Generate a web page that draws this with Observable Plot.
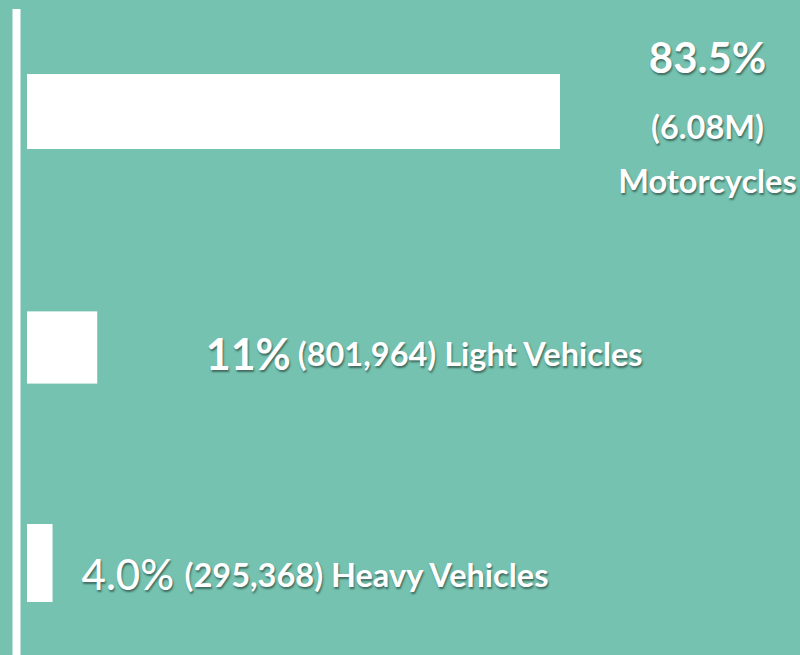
<!DOCTYPE html>
<html>
<head>
<meta charset="utf-8">
<script src="https://cdn.jsdelivr.net/npm/d3@7"></script>
<script src="https://cdn.jsdelivr.net/npm/@observablehq/plot@0.6"></script>
<style>
  html, body { margin: 0; padding: 0; background: #74c2af; }
  #chart svg text { text-shadow: 1px 2px 2px rgba(0,0,0,0.45); }
</style>
</head>
<body>
<div id="chart"></div>
<script>
const categories = ["Motorcycles", "Light Vehicles", "Heavy Vehicles"];
const percents = [83.5, 11, 4.0];
const percentLabels = ["83.5%", "11%", "4.0%"];
const countLabels = ["(6.08M)", "(801,964)", "(295,368)"];

const data = categories.map((c, i) => ({
  cat: c, pct: percents[i], pctLabel: percentLabels[i], countLabel: countLabels[i]
}));

const font = "Lato";
const big = 42, small = 32.5;
const row = (i) => [data[i]];
const white = "white";

const chart = Plot.plot({
  width: 800,
  height: 655,
  marginLeft: 27,
  marginRight: 240,
  marginTop: 9,
  marginBottom: 0,
  style: { background: "#74c2af", fontFamily: font, overflow: "visible" },
  x: { domain: [0, d3.max(percents)], axis: null },
  y: { domain: categories, range: [73, 601], paddingInner: 0.67, paddingOuter: 0, axis: null },
  marks: [
    Plot.ruleX([0], { stroke: white, strokeWidth: 8, dx: -11 }),
    Plot.barX(row(0), { x: "pct", y: "cat", fill: white }),
    Plot.barX(row(1), { x: "pct", y: "cat", fill: white, dy: 10, insetTop: 1.4, insetBottom: 1.4 }),
    Plot.barX(row(2), { x: "pct", y: "cat", fill: white, insetTop: -2, insetBottom: -1 }),
    // Motorcycles: stacked, centred lines
    Plot.text(row(0), { x: "pct", y: "cat", text: "pctLabel", textAnchor: "middle", dx: 147, dy: -52, fill: white, fontSize: big, fontWeight: 700 }),
    Plot.text(row(0), { x: "pct", y: "cat", text: "countLabel", textAnchor: "middle", dx: 147, dy: 17, fill: white, fontSize: small, fontWeight: 700 }),
    Plot.text(row(0), { x: "pct", y: "cat", text: "cat", textAnchor: "middle", dx: 147, dy: 71, fill: white, fontSize: small, fontWeight: 700 }),
    // Light Vehicles: inline
    Plot.text(row(1), { x: "pct", y: "cat", text: "pctLabel", textAnchor: "start", dx: 108, dy: 18, fill: white, fontSize: big + 1, fontWeight: 700 }),
    Plot.text(row(1), { x: "pct", y: "cat", text: (d) => d.countLabel + " " + d.cat, textAnchor: "start", dx: 200, dy: 18, fill: white, fontSize: small, fontWeight: 700 }),
    // Heavy Vehicles: inline
    Plot.text(row(2), { x: "pct", y: "cat", text: "pctLabel", textAnchor: "start", dx: 28.5, dy: 13, fill: white, fontSize: big, fontWeight: 500 }),
    Plot.text(row(2), { x: "pct", y: "cat", text: (d) => d.countLabel + " " + d.cat, textAnchor: "start", dx: 131.5, dy: 13, fill: white, fontSize: small, fontWeight: 700 })
  ]
});
document.getElementById("chart").append(chart);
</script>
</body>
</html>
